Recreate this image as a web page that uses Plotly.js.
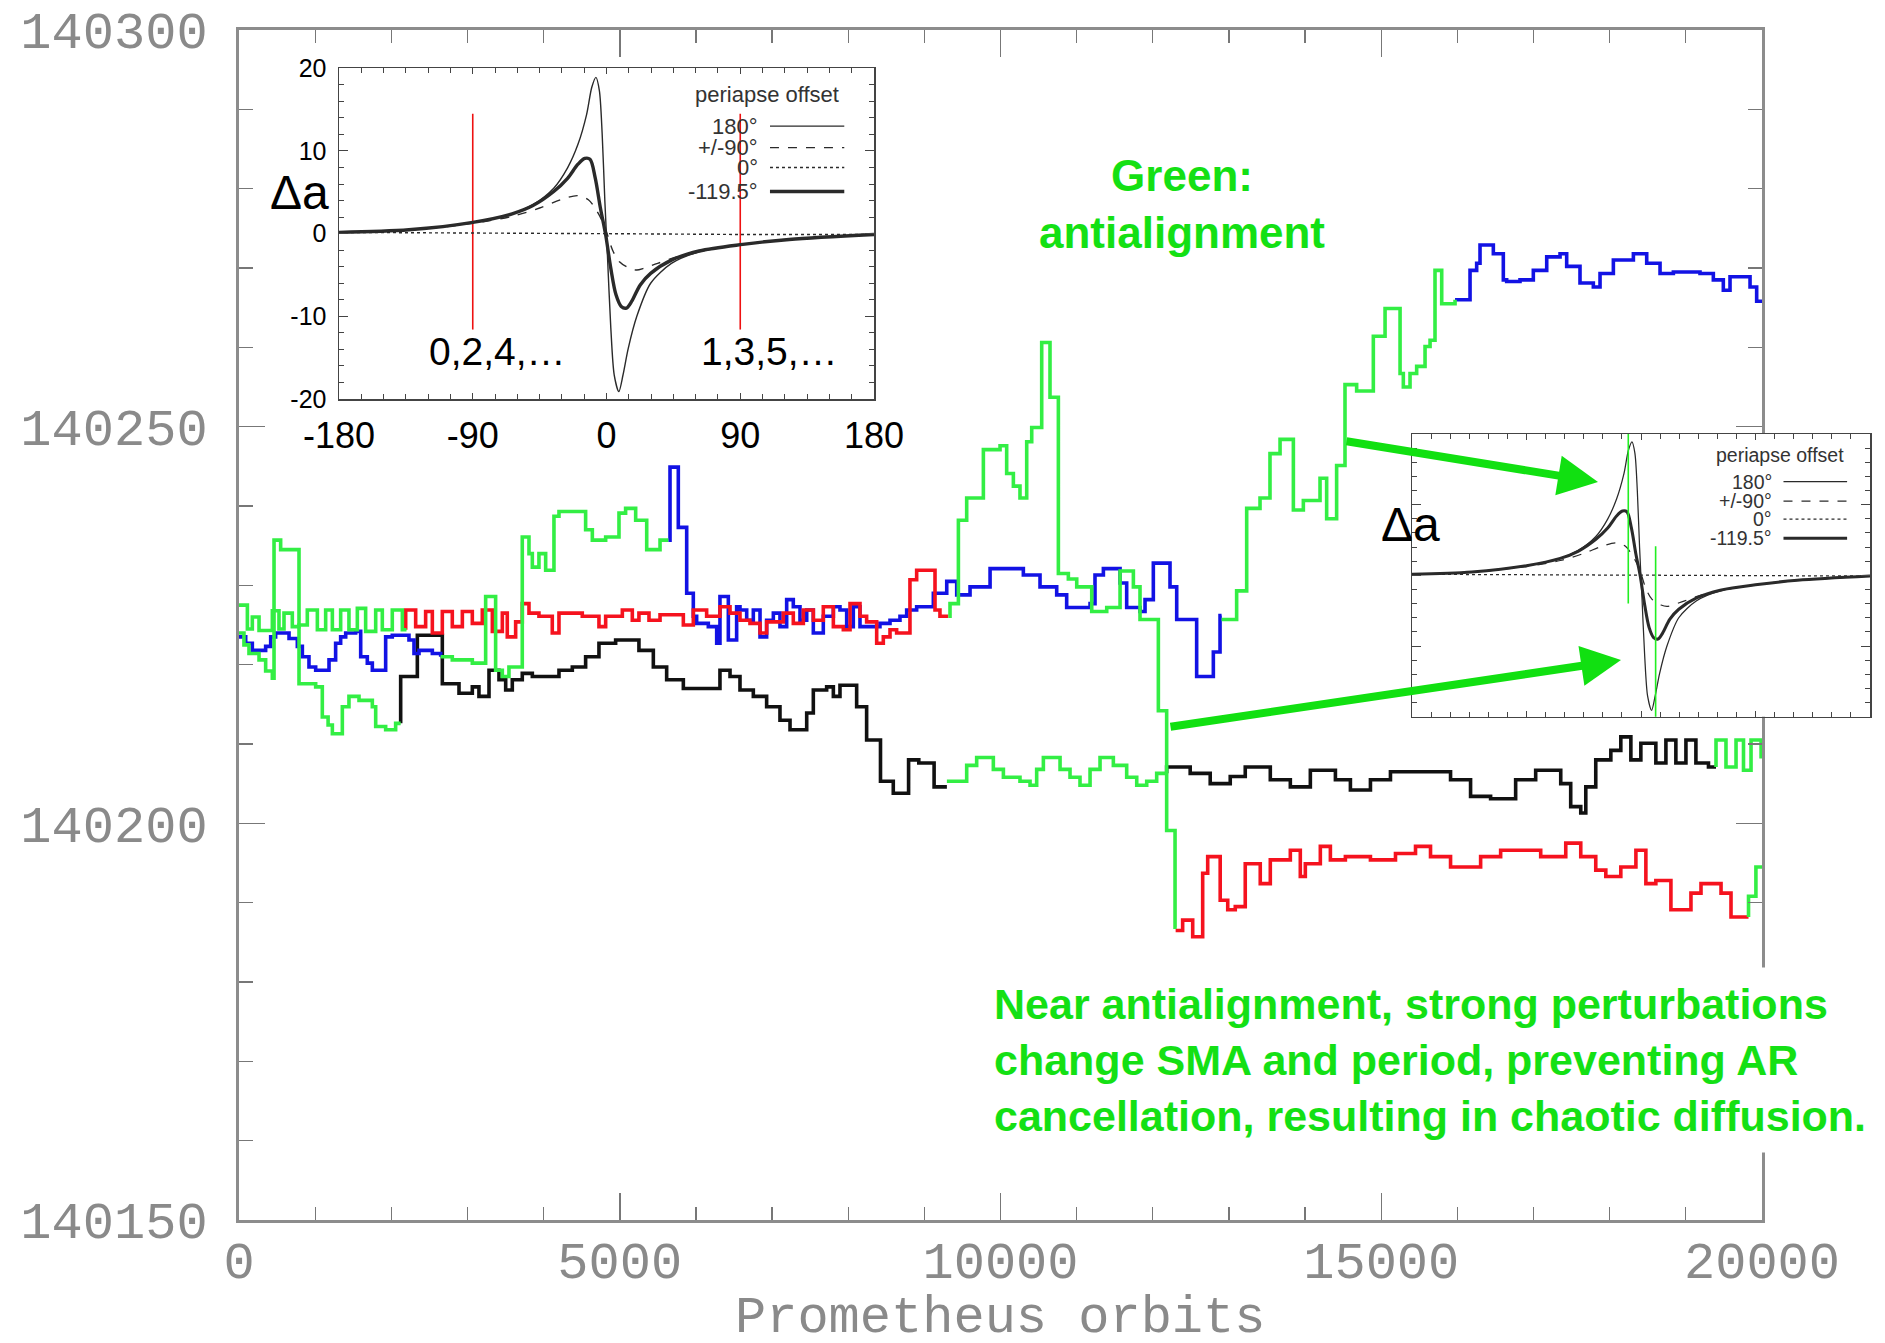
<!DOCTYPE html>
<html>
<head>
<meta charset="utf-8">
<script src="https://cdn.plot.ly/plotly-3.0.1.min.js"></script>
<style>
  html, body { margin: 0; padding: 0; background: #ffffff; }
  #chart { width: 1885px; height: 1343px; }
</style>
</head>
<body>
<div id="chart"></div>
<script>
// Semi-major axis (km) of ring particles vs. Prometheus orbits.
// Colour marks the encounter geometry at each stretch; runs are separated by null.

const greenOrbits = [
  0,110,175,263,438,525,591,700,788,897,1029,1138,1226,1335,1444,1554,1663,1795,1882,2013,2145,2200, null,
  0,65,131,263,350,438,460,547,788,1007,1094,1170,1226,1357,1444,1576,1751,1795,1926,2057,2123, null,
  2648,2801,3064,3239,3370,3458,3545,3720,3808,3852,3939,4027,4136,4202,4552,4640,4815,4990,5077,5209,5354,5529,5638, null,
  9296,9556,9687,9906,10038,10256,10388,10475,10563,10782,10913,11044,11176,11307,11482,11657,11789,11920,12051,12182, null,
  9315,9337,9447,9556,9775,9994,10081,10169,10256,10344,10410,10541,10650,10760,10891,11001,11198,11395,11570,11745,11832,12073,12182,12292,12314, null,
  12903,13101,13233,13408,13539,13671,13846,13977,14196,14283,14414,14524,14677,14896,15050,15247,15290,15378,15465,15575,15641,15706,15794,15969, null,
  19396,19396,19527,19659,19757,19856,19988,20000, null,
  19823,19823,19920,20000
];
const greenSMA = [
  140227.5,140224.5,140226.0,140224.3,140226.8,140224.5,140226.5,140224.8,140225.0,140226.9,140224.4,140226.9,140224.4,140226.9,140224.4,140227.1,140224.2,140226.9,140224.4,140226.9,140224.4,140224.4, null,
  140224.0,140222.5,140221.4,140220.6,140219.2,140218.3,140235.7,140234.5,140217.6,140217.2,140213.4,140212.4,140211.3,140214.7,140216.0,140215.5,140214.7,140212.2,140211.8,140212.6,140212.6, null,
  140221.0,140220.6,140220.2,140228.6,140219.3,140218.5,140219.7,140236.1,140234.0,140232.3,140234.0,140231.9,140238.7,140239.3,140237.0,140235.7,140236.1,140239.1,140239.7,140238.2,140234.5,140235.7,140235.7, null,
  140205.3,140207.3,140208.3,140206.8,140205.8,140205.3,140204.8,140206.8,140208.3,140206.8,140205.8,140204.8,140206.8,140208.3,140207.3,140205.8,140204.8,140205.3,140206.3,140206.3, null,
  140226.1,140227.7,140238.2,140241.0,140247.1,140247.6,140244.1,140242.5,140241.0,140248.1,140249.9,140260.6,140253.7,140231.5,140230.8,140229.8,140226.7,140227.2,140231.8,140229.8,140225.7,140214.2,140199.1,140186.9,140186.9, null,
  140225.7,140229.3,140239.7,140241.0,140246.6,140248.4,140239.5,140240.7,140243.5,140238.4,140245.1,140255.3,140254.5,140261.4,140264.9,140256.7,140255.0,140256.7,140257.6,140260.1,140260.9,140269.7,140265.5,140266.0, null,
  140207.1,140210.5,140207.1,140210.5,140206.7,140210.5,140208.4,140208.4, null,
  140188.2,140190.8,140194.5,140194.5
];

const redOrbits = [
  2189,2189,2320,2451,2539,2670,2801,2933,3064,3195,3327,3458,3523,3633,3720,3808,3939,4114,4202,4508,4727,4815,5034,5165,5252,5384,5529,5835,5966,6141,6316,6448,6579,6710,6842,6929,7148,7279,7411,7542,7673,7805,7936,8024,8155,8242,8374,8461,8549,8636,8811,8899,9140,9205,9315, null,
  12300,12392,12524,12655,12721,12885,12984,13083,13214,13411,13543,13806,13937,14003,14200,14332,14529,14858,15187,15450,15647,15910,16305,16568,17094,17423,17620,17817,17949,18146,18344,18475,18606,18804,19067,19199,19462,19593,19823
];
const redSMA = [
  140224.4,140226.9,140224.8,140226.7,140224.0,140226.7,140224.8,140226.7,140225.2,140226.9,140224.2,140226.5,140223.5,140225.4,140227.7,140226.5,140226.1,140224.0,140226.5,140226.1,140224.8,140226.1,140226.9,140225.6,140226.5,140225.6,140226.3,140225.0,140226.9,140226.1,140227.3,140226.5,140225.6,140225.2,140224.0,140225.4,140226.5,140225.2,140226.9,140225.6,140227.3,140224.8,140224.4,140227.7,140226.1,140225.4,140222.7,140223.5,140224.4,140224.0,140230.7,140231.9,140226.9,140226.1,140226.1, null,
  140186.5,140187.8,140185.7,140193.7,140195.8,140190.3,140189.1,140189.5,140194.9,140192.4,140195.4,140196.6,140193.3,140194.9,140197.1,140195.4,140195.8,140195.4,140196.2,140197.1,140195.8,140194.5,140195.8,140196.6,140195.8,140197.5,140195.8,140194.1,140193.3,140194.5,140196.6,140192.4,140192.8,140189.1,140191.2,140192.4,140191.2,140188.2,140188.2
];

const blackOrbits = [
  2123,2123,2342,2670,2889,3064,3151,3283,3414,3502,3589,3720,3852,4202,4377,4552,4727,4946,5252,5441,5616,5835,6316,6448,6579,6754,6929,7104,7236,7455,7542,7717,7805,7892,8111,8242,8424,8592,8793,8927,9128,9296, null,
  12182,12182,12491,12754,13017,13214,13543,13806,14069,14398,14595,14858,15121,15910,16173,16436,16765,17028,17357,17488,17620,17686,17817,18015,18146,18278,18409,18606,18738,18869,19001,19132,19297,19396
];
const blackSMA = [
  140212.6,140218.5,140223.7,140217.6,140216.4,140217.2,140216.0,140219.3,140218.1,140216.8,140218.1,140218.9,140218.5,140219.3,140219.7,140221.0,140222.7,140223.1,140221.8,140219.7,140218.1,140217.0,140219.3,140218.5,140216.8,140216.0,140214.7,140213.0,140211.8,140213.9,140216.8,140217.2,140216.0,140217.4,140214.7,140210.5,140205.3,140203.8,140208.0,140207.6,140204.6,140204.6, null,
  140206.3,140207.1,140206.3,140205.0,140205.9,140207.1,140205.5,140204.6,140206.7,140205.5,140204.2,140205.5,140206.5,140205.5,140203.4,140203.1,140205.5,140206.7,140205.0,140202.1,140201.3,140204.6,140208.0,140209.2,140210.9,140208.0,140210.1,140207.6,140210.5,140207.6,140210.5,140207.6,140207.1,140207.1
];

const blueOrbits = [
  0,88,175,350,416,481,657,766,832,919,1007,1182,1269,1335,1401,1532,1598,1685,1751,1926,2013,2232,2298,2364,2539,2648, null,
  5638,5660,5769,5879,5966,6010,6163,6273,6316,6426,6535,6579,6667,6754,6842,6929,7017,7104,7192,7279,7367,7455,7542,7673,7805,7892,7980,8067,8155,8417,8549,8680,8768,8899,9118,9294,9425,9600,9863,10300,10519,10738,10869,11176,11241,11351,11570,11657,11832,11898,12007,12226,12314,12576,12795,12883,12903, null,
  15969,16166,16253,16297,16472,16603,16647,16822,16997,17173,17348,17435,17610,17785,17873,18048,18311,18486,18661,18836,19186,19361,19492,19580,19843,19930,20000
];
const blueSMA = [
  140223.5,140222.7,140221.8,140222.3,140223.5,140224.0,140223.3,140222.3,140221.0,140219.7,140219.3,140220.6,140222.7,140223.5,140224.0,140224.2,140221.0,140220.2,140219.3,140223.5,140223.7,140223.1,140221.4,140221.8,140221.4,140221.0, null,
  140235.7,140244.9,140237.3,140229.0,140226.1,140225.2,140224.8,140222.7,140228.6,140223.1,140227.3,140226.9,140225.6,140226.9,140223.5,140225.6,140226.5,140224.8,140228.2,140227.3,140225.6,140226.9,140224.0,140226.1,140227.3,140226.9,140224.8,140227.3,140224.8,140225.2,140225.6,140226.1,140226.9,140227.3,140229.0,140230.5,140228.8,140229.8,140232.1,140231.3,140229.8,140228.8,140227.2,140227.7,140231.3,140232.1,140230.3,140227.2,140226.7,140228.2,140232.8,140229.8,140225.7,140218.5,140221.6,140226.2,140226.2, null,
  140266.0,140269.7,140270.6,140272.9,140271.8,140268.5,140268.3,140268.5,140269.7,140271.4,140271.8,140270.2,140268.1,140267.6,140269.3,140271.0,140271.8,140270.6,140269.3,140269.5,140269.3,140268.5,140267.2,140268.9,140267.6,140265.8,140265.8
];

// Kick in semi-major axis per encounter vs. encounter longitude, for several periapse offsets
const phase180 = [-180,-133,-90,-63.5,-49.5,-35.5,-26.2,-19.2,-13.4,-9.9,-7.1,-4.8,-2.9,-1.1,0.6,2.9,5.2,8.3,11.1,14.6,20.4,29.7,43.7,62.3,91.7,122.9,180];
const kick180  = [0.16,0.48,1.37,2.4,3.5,5.5,7.96,10.8,14.4,17.7,18.9,17.3,12.0,3.9,-2.5,-11.4,-17.1,-19.1,-17.1,-13.9,-10.0,-6.0,-3.6,-2.2,-1.3,-0.7,-0.1];
const phase90  = [-180,-133,-90,-63.5,-45,-31,-19.2,-12.2,-6.4,-1.8,0.6,4.1,8.7,15.7,20.4,25,34.4,53,91.7,122.9,180];
const kick90   = [0.16,0.45,1.25,2.1,3.1,4.1,4.6,4.1,2.7,1.1,-0.1,-2.0,-3.4,-4.2,-4.4,-4.2,-3.6,-2.5,-1.3,-0.7,-0.1];
const phase0   = [-180,-90,0,90,180];
const kick0    = [0.15,0.1,0,-0.1,-0.1];
const phase1195 = [-180,-133,-90,-63.5,-49.5,-35.5,-26.2,-19.2,-14.6,-11.1,-7.6,-4.1,-0.6,2.9,6.4,9.9,13.4,16.9,22.7,29.7,43.7,62.3,91.7,122.9,180];
const kick1195  = [0.16,0.48,1.37,2.4,3.4,5.1,6.7,8.4,9.1,9.0,6.75,3.1,-0.1,-4.2,-7.4,-8.8,-9.0,-8.2,-6.2,-4.8,-3.2,-2.1,-1.3,-0.7,-0.1];

const offsetLabels = ['180°', '+/-90°', '0°', '-119.5°'];

// Encounter longitudes marked in the two panels
const evenOddAngles = [-90, 90];
const evenOddSpan   = [14.5, -11.6];
const evenOddLabels = ['0,2,4,…', '1,3,5,…'];
const antiAngles = [-10.0, 11.5];
const antiTop    = [20.8, 4.1];
const antiBottom = [-4.0, -20.2];

const mainXTicks = [0, 5000, 10000, 15000, 20000];
const mainYTicks = [140150, 140200, 140250, 140300];
const kickXTicks = [-180, -90, 0, 90, 180];
const kickYTicks = [-20, -10, 0, 10, 20];

// ---------------------------------------------------------------
const W = 1885, H = 1343;
const px = v => v / W;
const py = v => 1 - v / H;

const BLUE = '#1212e4', RED = '#f5121e', BLACK = '#111111', GREEN = '#33ee44';
const TEXT_GREEN = '#14e014';
const INK = '#2a2a2a';

function stepTrace(x, y, color) {
  return { x: x, y: y, type: 'scatter', mode: 'lines', xaxis: 'x', yaxis: 'y',
           line: { color: color, width: 3.6, shape: 'hv' }, connectgaps: false, hoverinfo: 'skip' };
}

function curveSet(xa, ya, scale) {
  const s = scale;
  return [
    { x: phase0, y: kick0, line: { color: INK, width: 1.4 * s, dash: 'dot' } },
    { x: phase90, y: kick90, line: { color: INK, width: 1.4 * s, dash: 'dash', shape: 'spline', smoothing: 0.9 } },
    { x: phase180, y: kick180, line: { color: INK, width: 1.4 * s, shape: 'spline', smoothing: 0.8 } },
    { x: phase1195, y: kick1195, line: { color: INK, width: 3.4 * s, shape: 'spline', smoothing: 0.9 } }
  ].map(t => Object.assign(t, { type: 'scatter', mode: 'lines', xaxis: xa, yaxis: ya, hoverinfo: 'skip' }));
}

const traces = [
  stepTrace(blackOrbits, blackSMA, BLACK),
  stepTrace(blueOrbits, blueSMA, BLUE),
  stepTrace(redOrbits, redSMA, RED),
  stepTrace(greenOrbits, greenSMA, GREEN)
];

// Red cut lines in upper panel
evenOddAngles.forEach(a => traces.push({
  x: [a, a], y: evenOddSpan, type: 'scatter', mode: 'lines', xaxis: 'x2', yaxis: 'y2',
  line: { color: '#ee1111', width: 1.6 }, hoverinfo: 'skip'
}));
traces.push(...curveSet('x2', 'y2', 1));
traces.push(...curveSet('x3', 'y3', 0.9));
// Green anti-alignment markers in lower panel
antiAngles.forEach((a, i) => traces.push({
  x: [a, a], y: [antiTop[i], antiBottom[i]], type: 'scatter', mode: 'lines', xaxis: 'x3', yaxis: 'y3',
  line: { color: '#22ee22', width: 1.6 }, hoverinfo: 'skip'
}));

const monoGray = { family: 'Liberation Mono, DejaVu Sans Mono, monospace', size: 52, color: '#8a8a8a' };
const hyphen = v => String(v).replace('\u2212', '-');

function insetX(domain, labels) {
  return {
    domain: domain, range: [-180, 180],
    tickmode: 'array', tickvals: kickXTicks, ticktext: kickXTicks.map(hyphen),
    ticks: 'inside', ticklen: 6, tickwidth: 1, tickcolor: '#444',
    minor: { tickmode: 'linear', tick0: 0, dtick: 15, ticklen: 5, tickcolor: '#444', ticks: 'inside' },
    showline: true, linecolor: '#444', linewidth: 1.5, mirror: 'ticks',
    showgrid: false, zeroline: false, showticklabels: labels,
    tickfont: { family: 'Liberation Sans, Arial, sans-serif', size: 36, color: '#000' },
    ticklabelstandoff: 4, fixedrange: true
  };
}
function insetY(domain, labels) {
  return {
    domain: domain, range: [-20, 20],
    tickmode: 'array', tickvals: kickYTicks, ticktext: kickYTicks.map(hyphen),
    ticks: 'inside', ticklen: 9, tickwidth: 1, tickcolor: '#444',
    minor: { tickmode: 'linear', tick0: 0, dtick: 2, ticklen: 5, tickcolor: '#444', ticks: 'inside' },
    showline: true, linecolor: '#444', linewidth: 1.5, mirror: 'ticks',
    showgrid: false, zeroline: false, showticklabels: labels,
    tickfont: { family: 'Liberation Sans, Arial, sans-serif', size: 25, color: '#000' },
    ticklabelstandoff: 6, fixedrange: true
  };
}

const layout = {
  width: W, height: H,
  margin: { l: 0, r: 0, t: 0, b: 0, pad: 0 },
  paper_bgcolor: '#ffffff', plot_bgcolor: '#ffffff',
  showlegend: false,
  xaxis: {
    domain: [px(239), px(1762)], anchor: 'y', range: [0, 20000],
    tickmode: 'array', tickvals: mainXTicks, ticktext: mainXTicks.map(String),
    ticks: 'inside', ticklen: 27, tickwidth: 1.5, tickcolor: '#777',
    minor: { tickmode: 'linear', dtick: 1000, tick0: 0, ticklen: 13, tickwidth: 1.2, tickcolor: '#777', ticks: 'inside' },
    showline: true, linecolor: '#8c8c8c', linewidth: 3, mirror: 'ticks',
    showgrid: false, zeroline: false, tickfont: monoGray, ticklabelstandoff: -7, fixedrange: true
  },
  yaxis: {
    domain: [py(1220), py(30)], anchor: 'x', range: [140150, 140300],
    tickmode: 'array', tickvals: mainYTicks, ticktext: mainYTicks.map(String),
    ticks: 'inside', ticklen: 26, tickwidth: 1.5, tickcolor: '#777',
    minor: { tickmode: 'linear', dtick: 10, tick0: 140150, ticklen: 14, tickwidth: 1.2, tickcolor: '#777', ticks: 'inside' },
    showline: true, linecolor: '#8c8c8c', linewidth: 3, mirror: 'ticks',
    showgrid: false, zeroline: false, tickfont: monoGray, ticklabelstandoff: 18, fixedrange: true
  },
  xaxis2: Object.assign(insetX([px(339), px(874)], true), { anchor: 'y2' }),
  yaxis2: Object.assign(insetY([py(399), py(68.3)], true), { anchor: 'x2' }),
  xaxis3: Object.assign(insetX([px(1412), px(1870)], false), { anchor: 'y3' }),
  yaxis3: Object.assign(insetY([py(716.7), py(434)], false), { anchor: 'x3' }),
  shapes: [],
  annotations: []
};

// Legend keys inside the two panels
const keyStyles = [
  { width: 1.4, dash: 'solid' }, { width: 1.4, dash: 'dash' },
  { width: 1.4, dash: 'dot' }, { width: 3.6, dash: 'solid' }
];
function addKey(xa, ya, x0, x1, labelX, titleX, titleY, rows, fontSize, scale) {
  layout.annotations.push({
    xref: xa, yref: ya, x: titleX, y: titleY, xanchor: 'right', yanchor: 'middle',
    text: 'periapse offset', showarrow: false,
    font: { family: 'Liberation Sans, Arial, sans-serif', size: fontSize, color: '#333' }
  });
  rows.forEach((ry, i) => {
    layout.annotations.push({
      xref: xa, yref: ya, x: labelX, y: ry, xanchor: 'right', yanchor: 'middle',
      text: offsetLabels[i], showarrow: false,
      font: { family: 'Liberation Sans, Arial, sans-serif', size: fontSize, color: '#333' }
    });
    layout.shapes.push({
      type: 'line', xref: xa, yref: ya, x0: x0, x1: x1, y0: ry, y1: ry,
      line: { color: INK, width: keyStyles[i].width * scale, dash: keyStyles[i].dash }
    });
  });
}
addKey('x2', 'y2', 110, 160, 103, 158, 16.8, [13.0, 10.4, 8.0, 5.1], 22, 1);
addKey('x3', 'y3', 112, 162, 104.3, 161, 17.0, [13.25, 10.5, 7.97, 5.25], 19.5, 0.9);

// Panel labels
const sansBlack = size => ({ family: 'Liberation Sans, Arial, sans-serif', size: size, color: '#000' });
layout.annotations.push(
  { xref: 'paper', yref: 'paper', x: px(299), y: py(193), text: 'Δa', showarrow: false,
    xanchor: 'center', yanchor: 'middle', font: sansBlack(48) },
  { xref: 'paper', yref: 'paper', x: px(1410), y: py(524), text: 'Δa', showarrow: false,
    xanchor: 'center', yanchor: 'middle', font: sansBlack(48) }
);
evenOddAngles.forEach((a, i) => layout.annotations.push({
  xref: 'x2', yref: 'y2', x: a + (i === 0 ? 16.5 : 19.4), y: -14.3, text: evenOddLabels[i],
  showarrow: false, xanchor: 'center', yanchor: 'middle', font: sansBlack(39)
}));

// Explanatory text and pointers
const boldGreen = size => ({ family: 'Liberation Sans, Arial, sans-serif', size: size, color: TEXT_GREEN, weight: 'bold' });
layout.annotations.push(
  { xref: 'paper', yref: 'paper', x: px(1182), y: py(204), text: '<b>Green:</b><br><b>antialignment</b>',
    showarrow: false, xanchor: 'center', yanchor: 'middle', align: 'center', font: boldGreen(44) },
  { xref: 'paper', yref: 'paper', x: px(981), y: py(1060), xanchor: 'left', yanchor: 'middle', align: 'left',
    text: '<b>Near antialignment, strong perturbations</b><br><b>change SMA and period, preventing AR</b><br><b>cancellation, resulting in chaotic diffusion.</b>',
    showarrow: false, bgcolor: '#ffffff', borderpad: 12, font: boldGreen(43) },
  { xref: 'paper', yref: 'paper', x: px(1598), y: py(482), axref: 'pixel', ayref: 'pixel',
    ax: 1345 - 1598, ay: 441 - 482, showarrow: true, arrowhead: 2, arrowsize: 1, arrowwidth: 8,
    arrowcolor: '#11e011', text: '' },
  { xref: 'paper', yref: 'paper', x: px(1621), y: py(660), axref: 'pixel', ayref: 'pixel',
    ax: 1169 - 1621, ay: 727 - 660, showarrow: true, arrowhead: 2, arrowsize: 1, arrowwidth: 8,
    arrowcolor: '#11e011', text: '' },
  { xref: 'paper', yref: 'paper', x: px(1001), y: py(1318), text: 'Prometheus orbits', showarrow: false,
    xanchor: 'center', yanchor: 'middle', font: monoGray }
);

Plotly.newPlot('chart', traces, layout, { staticPlot: true, displayModeBar: false });
</script>
</body>
</html>
